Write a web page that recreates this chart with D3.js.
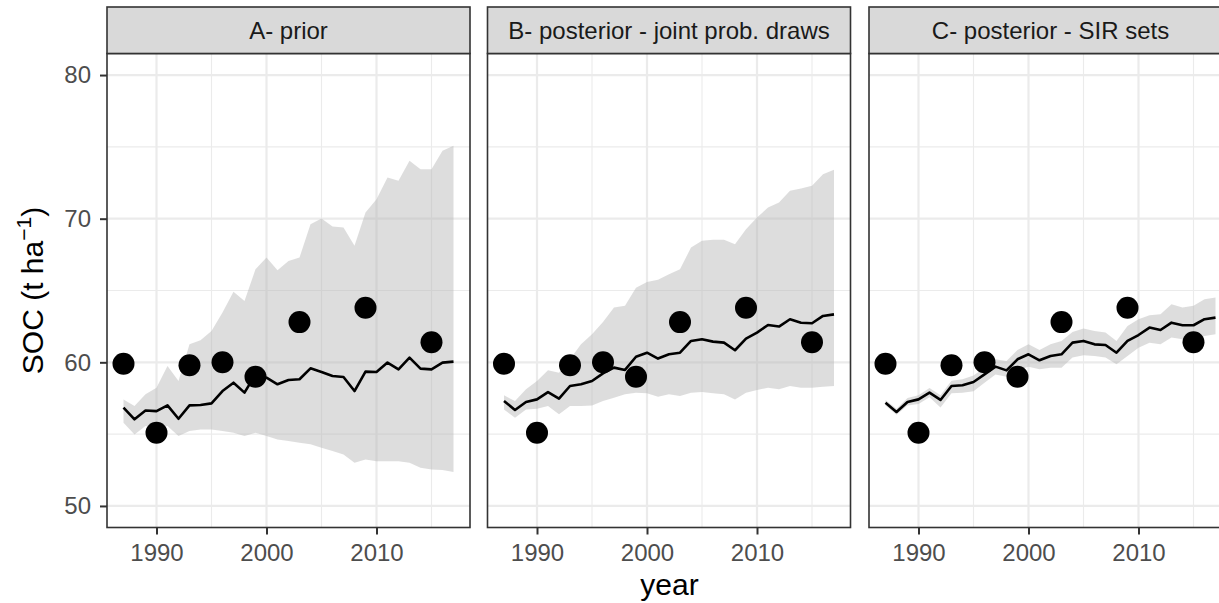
<!DOCTYPE html>
<html>
<head>
<meta charset="utf-8">
<script src="https://cdn.jsdelivr.net/npm/d3@7"></script>
<style>
  body { margin: 0; background: white; }
  svg { display: block; font-family: "Liberation Sans", Arial, sans-serif; }
</style>
</head>
<body>
<svg id="chart" width="1219" height="603"></svg>
<script>
const years = [1987, 1988, 1989, 1990, 1991, 1992, 1993, 1994, 1995, 1996, 1997, 1998, 1999, 2000, 2001, 2002,
  2003, 2004, 2005, 2006, 2007, 2008, 2009, 2010, 2011, 2012, 2013, 2014, 2015, 2016, 2017];

const obsYears = [1987, 1990, 1993, 1996, 1999, 2003, 2009, 2015];
const obsSoc = [59.9, 55.1, 59.8, 60.0, 59.0, 62.8, 63.8, 61.4];

const priorMed = [56.84, 56.03, 56.65, 56.6, 57.0, 56.07, 57.0, 57.03, 57.14, 58.0, 58.58, 57.89, 59.16, 58.93, 58.47, 58.77,
  58.82, 59.58, 59.33, 59.05, 58.98, 58.0, 59.35, 59.33, 59.98, 59.51, 60.33, 59.56, 59.51, 59.98, 60.05];
const priorUp = [57.42, 56.96, 57.77, 58.23, 59.74, 58.7, 61.25, 61.53, 62.18, 63.46, 64.92, 64.27, 66.48, 67.29, 66.41, 67.06,
  67.29, 69.62, 70.01, 69.45, 69.38, 68.11, 70.43, 71.36, 72.87, 72.64, 74.03, 73.45, 73.45, 74.73, 75.08];
const priorLo = [55.8, 54.98, 55.56, 55.45, 55.56, 54.87, 55.21, 55.33, 55.33, 55.21, 55.1, 54.87, 55.1, 54.87, 54.63, 54.52,
  54.4, 54.29, 54.05, 53.82, 53.59, 53.01, 53.24, 53.12, 53.12, 53.12, 53.01, 52.66, 52.54, 52.5, 52.36];

const jointMed = [57.31, 56.68, 57.24, 57.42, 57.93, 57.47, 58.35, 58.47, 58.7, 59.23, 59.63, 59.47, 60.39, 60.67, 60.26, 60.56,
  60.67, 61.49, 61.6, 61.44, 61.37, 60.84, 61.65, 62.07, 62.6, 62.49, 63.0, 62.76, 62.72, 63.23, 63.34];
const jointUp = [57.7, 57.31, 58.12, 58.7, 59.44, 59.28, 60.21, 61.25, 61.95, 62.81, 63.81, 63.93, 65.2, 65.6, 65.74, 66.13,
  66.48, 67.99, 68.46, 68.53, 68.53, 68.22, 69.27, 70.08, 70.78, 71.13, 71.94, 72.1, 72.29, 73.1, 73.4];
const jointLo = [56.72, 56.14, 56.72, 56.77, 56.96, 56.38, 56.96, 56.96, 57.0, 57.31, 57.54, 57.77, 57.89, 57.84, 57.61, 57.77,
  57.65, 57.89, 57.93, 57.84, 57.77, 57.42, 57.89, 58.07, 58.23, 58.12, 58.35, 58.23, 58.23, 58.3, 58.35];

const sirMed = [57.19, 56.54, 57.24, 57.42, 57.89, 57.38, 58.35, 58.4, 58.63, 59.16, 59.7, 59.44, 60.21, 60.56, 60.14, 60.44,
  60.56, 61.37, 61.49, 61.25, 61.21, 60.67, 61.49, 61.9, 62.42, 62.25, 62.76, 62.58, 62.58, 63.0, 63.11];
const sirUp = [57.38, 56.77, 57.51, 57.7, 58.21, 57.7, 58.72, 58.82, 59.09, 59.63, 60.21, 60.09, 60.86, 61.25, 60.86, 61.25,
  61.49, 62.11, 62.35, 62.18, 62.07, 61.49, 62.53, 63.0, 63.28, 63.34, 64.04, 63.81, 63.93, 64.39, 64.51];
const sirLo = [57.0, 56.35, 57.0, 57.1, 57.56, 56.86, 57.84, 57.89, 57.98, 58.58, 59.16, 59.0, 59.47, 59.7, 59.51, 59.63,
  59.63, 60.33, 60.49, 60.44, 60.33, 59.86, 60.44, 61.02, 61.37, 61.25, 61.72, 61.6, 61.6, 61.84, 61.95];

const panelTitles = ["A- prior", "B- posterior - joint prob. draws", "C- posterior - SIR sets"];
const xTicks = [1990, 2000, 2010];
const xMinor = [1995, 2005, 2015];
const yTicks = [50, 60, 70, 80];
const yMinor = [55, 65, 75];

const panels = [
  { title: panelTitles[0], med: priorMed, up: priorUp, lo: priorLo },
  { title: panelTitles[1], med: jointMed, up: jointUp, lo: jointLo },
  { title: panelTitles[2], med: sirMed, up: sirUp, lo: sirLo }
];

const svg = d3.select("#chart");

const panelLeft = [107, 487.5, 869];
const panelW = 363;
const stripTop = 7;
const plotTop = 53.5;
const plotBottom = 527.5;

const y = d3.scaleLinear().domain([48.5, 81.5]).range([plotBottom, plotTop]);

panels.forEach((p, i) => {
  const left = panelLeft[i];
  const x = d3.scaleLinear().domain([1985.5, 2018.5]).range([left, left + panelW]);
  const g = svg.append("g");

  // grid
  g.selectAll(".minx").data(xMinor).join("line")
    .attr("x1", (d) => x(d)).attr("x2", (d) => x(d))
    .attr("y1", plotTop).attr("y2", plotBottom)
    .attr("stroke", "#ebebeb").attr("stroke-width", 1.1);
  g.selectAll(".miny").data(yMinor).join("line")
    .attr("x1", left).attr("x2", left + panelW)
    .attr("y1", (d) => y(d)).attr("y2", (d) => y(d))
    .attr("stroke", "#ebebeb").attr("stroke-width", 1.1);
  g.selectAll(".majx").data(xTicks).join("line")
    .attr("x1", (d) => x(d)).attr("x2", (d) => x(d))
    .attr("y1", plotTop).attr("y2", plotBottom)
    .attr("stroke", "#ebebeb").attr("stroke-width", 2.2);
  g.selectAll(".majy").data(yTicks).join("line")
    .attr("x1", left).attr("x2", left + panelW)
    .attr("y1", (d) => y(d)).attr("y2", (d) => y(d))
    .attr("stroke", "#ebebeb").attr("stroke-width", 2.2);

  const rows = years.map((yr, j) => ({ yr, med: p.med[j], up: p.up[j], lo: p.lo[j] }));

  g.append("path")
    .datum(rows)
    .attr("fill", "rgba(179,179,179,0.45)")
    .attr("d", d3.area().x((d) => x(d.yr)).y0((d) => y(d.lo)).y1((d) => y(d.up)));

  g.append("path")
    .datum(rows)
    .attr("fill", "none")
    .attr("stroke", "black")
    .attr("stroke-width", 2.6)
    .attr("stroke-linejoin", "round")
    .attr("d", d3.line().x((d) => x(d.yr)).y((d) => y(d.med)));

  g.selectAll("circle").data(obsYears).join("circle")
    .attr("cx", (d) => x(d))
    .attr("cy", (d, j) => y(obsSoc[j]))
    .attr("r", 11)
    .attr("fill", "black");

  // panel border
  g.append("rect")
    .attr("x", left).attr("y", plotTop)
    .attr("width", panelW).attr("height", plotBottom - plotTop)
    .attr("fill", "none").attr("stroke", "#333333").attr("stroke-width", 1.6);

  // strip
  g.append("rect")
    .attr("x", left).attr("y", stripTop)
    .attr("width", panelW).attr("height", plotTop - stripTop)
    .attr("fill", "#d9d9d9").attr("stroke", "#333333").attr("stroke-width", 1.6);
  g.append("text")
    .attr("x", left + panelW / 2).attr("y", (stripTop + plotTop) / 2)
    .attr("dy", "0.35em")
    .attr("text-anchor", "middle")
    .attr("font-size", 24)
    .attr("fill", "#1a1a1a")
    .text(p.title);

  // x axis
  const xa = g.append("g")
    .attr("transform", `translate(0,${plotBottom})`)
    .call(d3.axisBottom(x).tickValues(xTicks).tickFormat(d3.format("d")).tickSize(7).tickPadding(9));
  xa.select(".domain").remove();
  xa.selectAll("line").attr("stroke", "#333333").attr("stroke-width", 2);
  xa.selectAll("text").attr("font-size", 24).attr("fill", "#4d4d4d");
  xa.attr("font-family", null);

  if (i === 0) {
    const ya = g.append("g")
      .attr("transform", `translate(${left},0)`)
      .call(d3.axisLeft(y).tickValues(yTicks).tickSize(7).tickPadding(9));
    ya.select(".domain").remove();
    ya.selectAll("line").attr("stroke", "#333333").attr("stroke-width", 2);
    ya.selectAll("text").attr("font-size", 24).attr("fill", "#4d4d4d");
    ya.attr("font-family", null);
  }
});

// axis titles
svg.append("text")
  .attr("x", (panelLeft[0] + panelLeft[2] + panelW) / 2)
  .attr("y", 595)
  .attr("text-anchor", "middle")
  .attr("font-size", 30)
  .attr("fill", "black")
  .text("year");

const yt = svg.append("text")
  .attr("transform", `translate(43,${(plotTop + plotBottom) / 2}) rotate(-90)`)
  .attr("text-anchor", "middle")
  .attr("font-size", 30)
  .attr("fill", "black");
yt.append("tspan").text("SOC (t ha");
yt.append("tspan").attr("dy", -12).attr("font-size", 21).text("\u22121");
yt.append("tspan").attr("dy", 12).text(")");
</script>
</body>
</html>
